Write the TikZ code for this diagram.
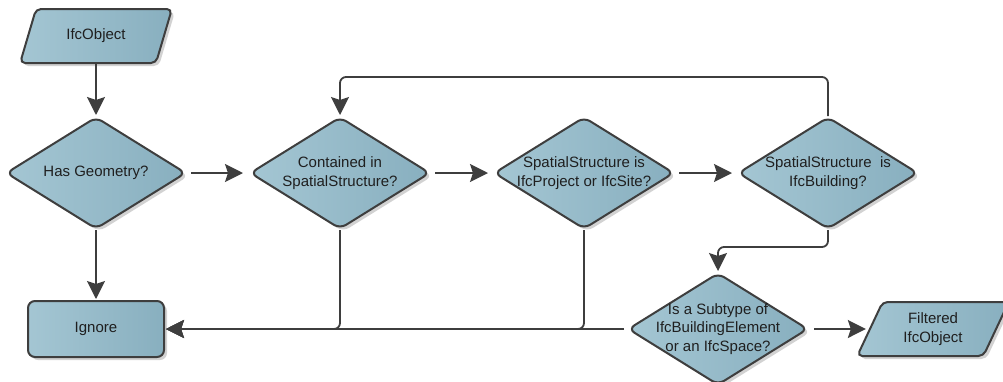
\documentclass[tikz,border=0pt]{standalone}
\usepackage{fontspec}
\setmainfont{Liberation Sans}
\usepackage{tikz}
\usetikzlibrary{positioning}
\usetikzlibrary{arrows.meta,shapes.geometric,shadows}
\definecolor{boxlight}{RGB}{164,198,211}
\definecolor{boxdark}{RGB}{136,175,191}
\definecolor{linegray}{RGB}{62,62,62}

\begin{document}
\begin{tikzpicture}[x=1pt,y=1pt,->,>={Stealth[length=18pt,width=18pt,inset=3pt]},shorten >=1pt,auto,node distance=244pt,on grid,
  color=linegray,line width=1.8pt,
  every node/.style={font=\fontsize{15}{18.5}\selectfont,text=black!88},
  box/.style={draw=linegray,line width=2pt,left color=boxlight,right color=boxdark,
    drop shadow={shadow xshift=3pt,shadow yshift=-3pt,fill=black!35}},
  dia/.style={box,diamond,aspect=1.6,inner sep=-25pt,minimum width=180pt,minimum height=112pt,rounded corners=7pt,align=center},
  io/.style={box,trapezium,trapezium left angle=67,trapezium right angle=113,trapezium stretches=true,
    minimum width=153pt,minimum height=54pt,rounded corners=5pt,align=center},
  proc/.style={box,rectangle,minimum width=136pt,minimum height=56pt,rounded corners=7pt}]
  \useasboundingbox (0,0) rectangle (1003,-381);
  \node (B) [dia] at (96,-173) {Has Geometry?};
  \node (A) [io, above=137pt of B] {IfcObject};
  \node (C) [dia, right=of B] {Contained in\\SpatialStructure?};
  \node (D) [dia, right=of C] {SpatialStructure is\\IfcProject or IfcSite?};
  \node (E) [dia, right=of D] {SpatialStructure\ \ is\\IfcBuilding?};
  \node (F) [proc, below=156pt of B] {Ignore};
  \node (G) [dia, below left=156pt and 110pt of E] {Is a Subtype of\\IfcBuildingElement\\or an IfcSpace?};
  \node (H) [io, right=215pt of G] {Filtered\\IfcObject};
\path[->] (A) edge node {} (B)
	  (B) edge[shorten <=4pt,shorten >=6pt] node {} (C)
	  (C) edge[shorten <=4pt,shorten >=5pt] node {} (D)
	  (D) edge[shorten <=4pt,shorten >=5pt] node {} (E)
	  (G) edge[shorten <=5pt,shorten >=3pt] node {} (H)
	  (B) edge node {} (F);
  \draw[rounded corners=6pt] (E.north) -- ++(0,39) -| (C.north);
  \draw[rounded corners=6pt] (E.south) -- ++(0,-17) -| (G.north);
  \draw[shorten <=3pt] (G.west) -- (F.east);
  \draw[rounded corners=6pt] (C.south) |- (F.east);
  \draw[rounded corners=6pt] (D.south) |- (F.east);
\end{tikzpicture}
\end{document}
